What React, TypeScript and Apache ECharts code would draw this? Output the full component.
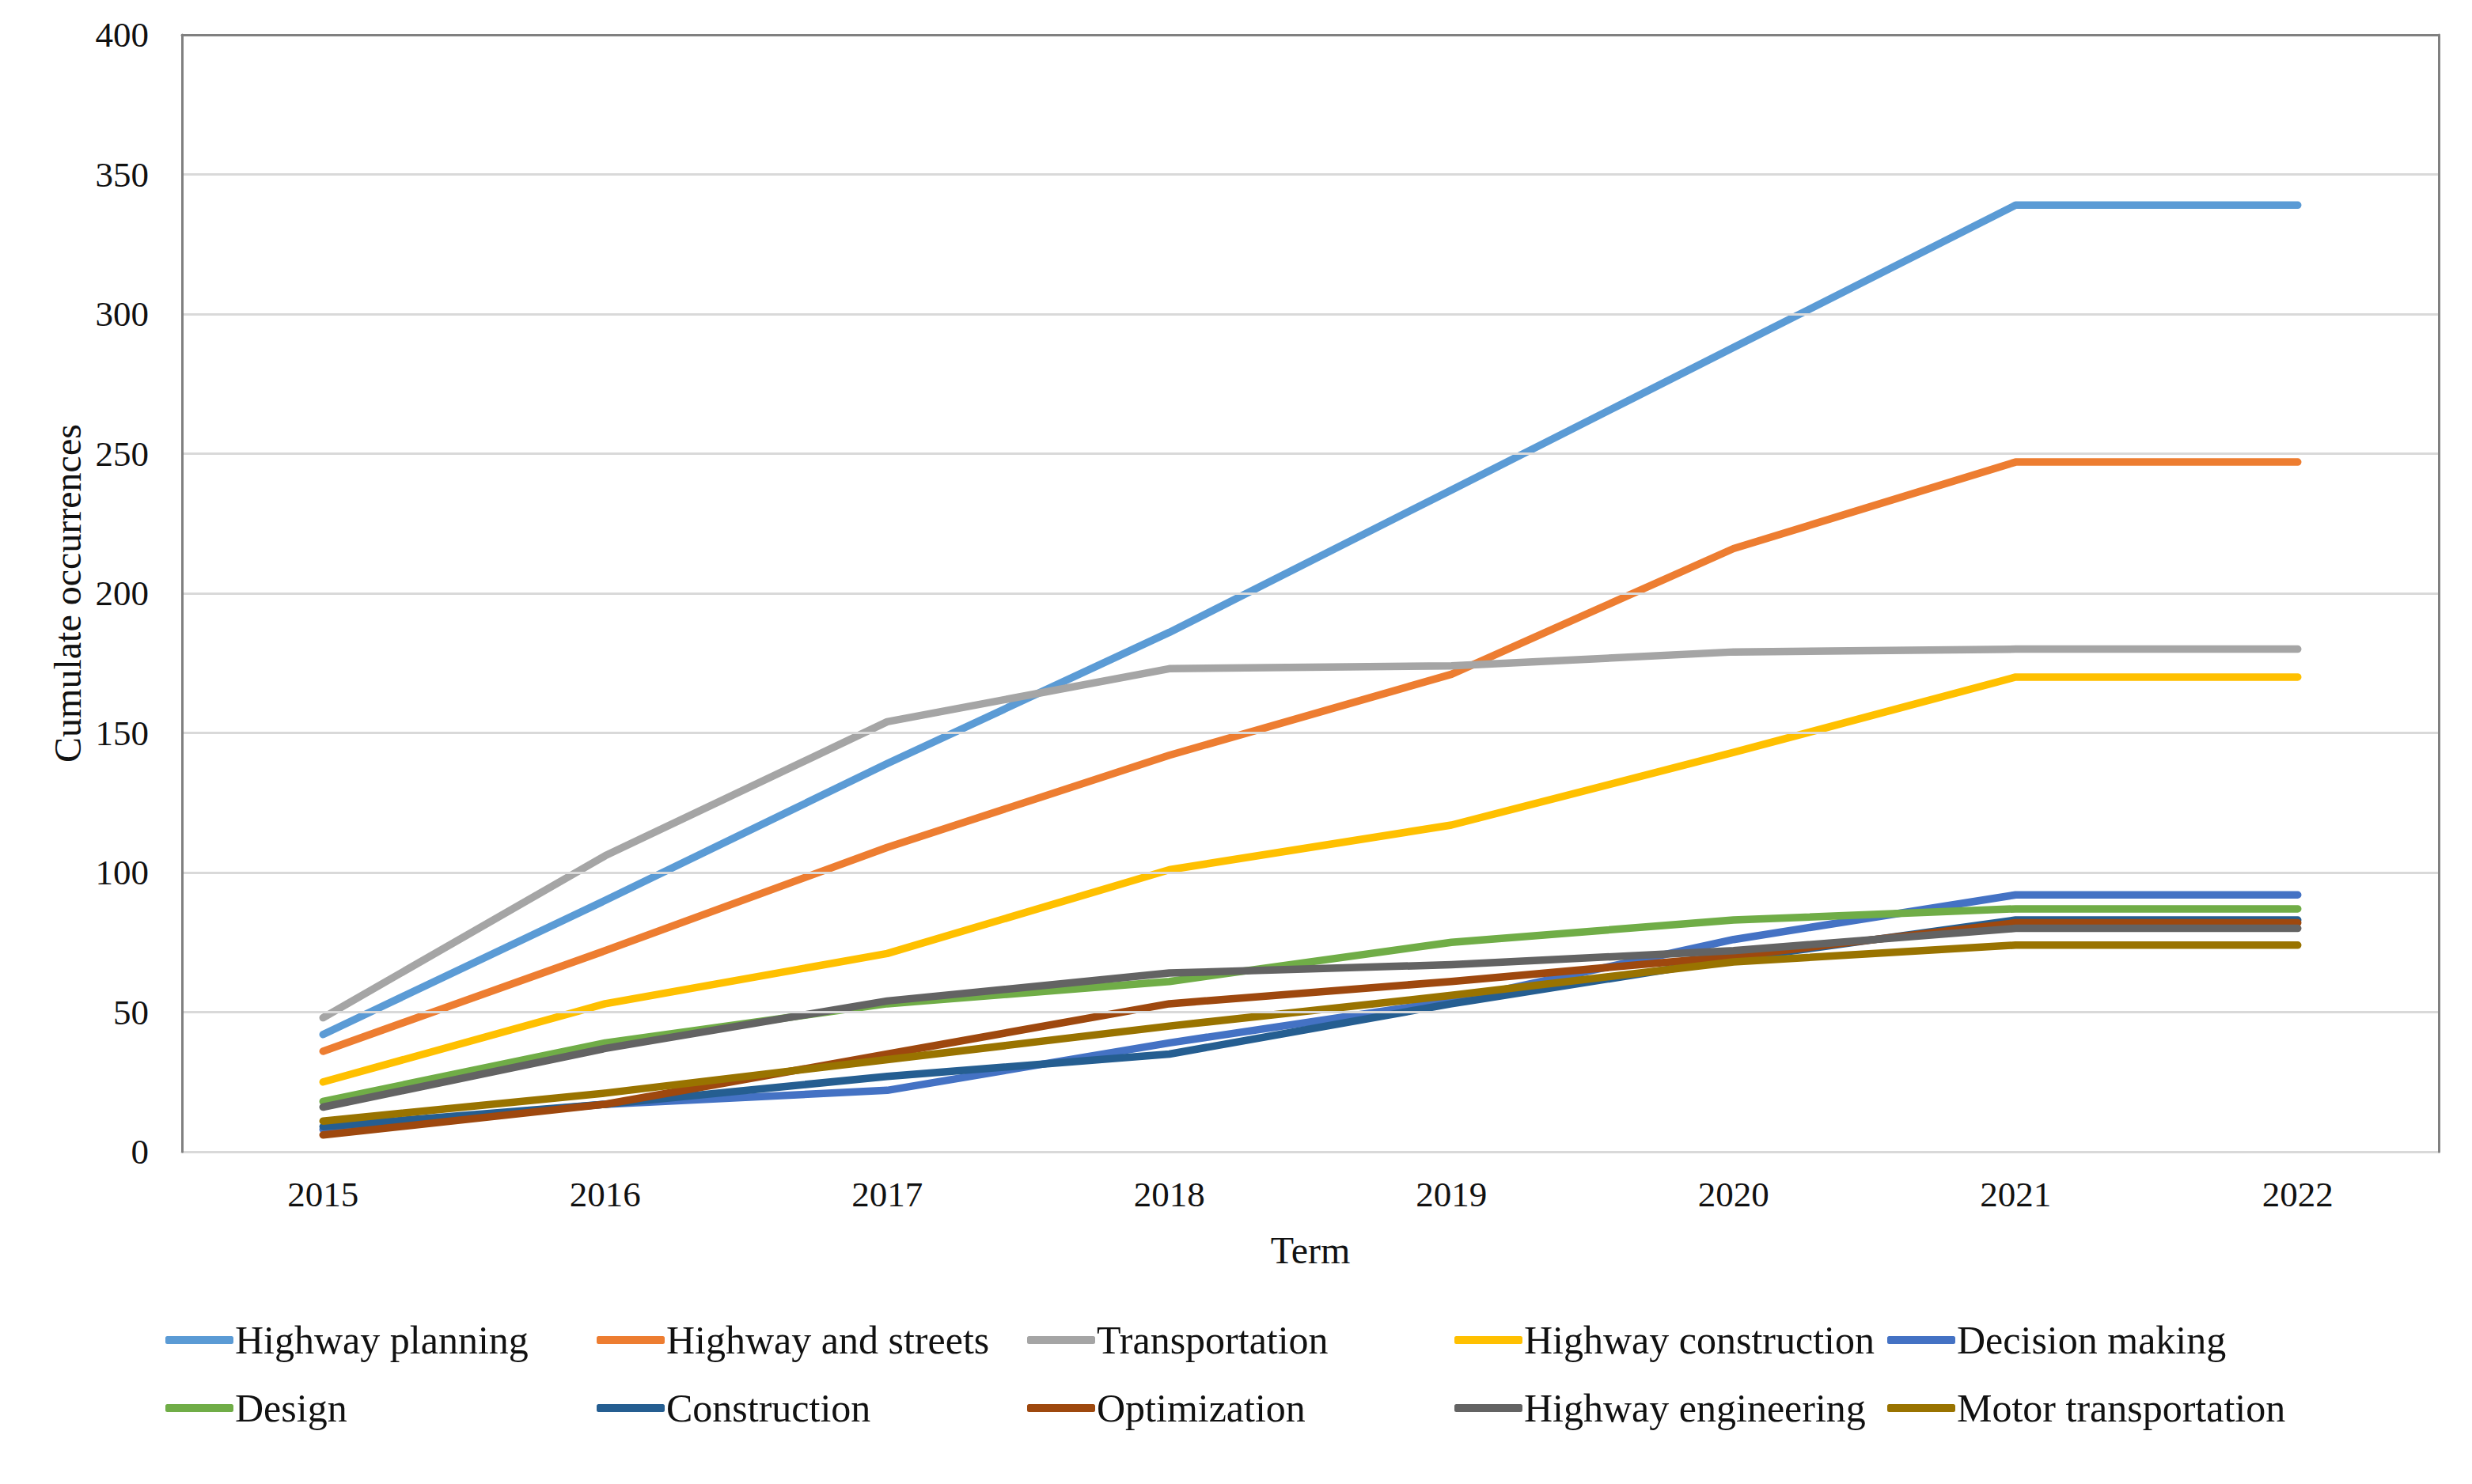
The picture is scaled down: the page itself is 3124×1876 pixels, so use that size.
import React, { useEffect, useRef } from "react";
import * as echarts from "echarts";

const years = ["2015", "2016", "2017", "2018", "2019", "2020", "2021", "2022"];

const seriesNames = [
  "Highway planning",
  "Highway and streets",
  "Transportation",
  "Highway construction",
  "Decision making",
  "Design",
  "Construction",
  "Optimization",
  "Highway engineering",
  "Motor transportation",
];

const highwayPlanning = [42, 90, 139, 186, 237, 288, 339, 339];
const highwayAndStreets = [36, 72, 109, 142, 171, 216, 247, 247];
const transportation = [48, 106, 154, 173, 174, 179, 180, 180];
const highwayConstruction = [25, 53, 71, 101, 117, 143, 170, 170];
const decisionMaking = [8, 17, 22, 39, 54, 76, 92, 92];
const design = [18, 39, 53, 61, 75, 83, 87, 87];
const construction = [9, 17, 27, 35, 53, 69, 83, 83];
const optimization = [6, 17, 35, 53, 61, 70, 82, 82];
const highwayEngineering = [16, 37, 54, 64, 67, 72, 80, 80];
const motorTransportation = [11, 21, 33, 45, 56, 68, 74, 74];

const seriesValues = [
  highwayPlanning,
  highwayAndStreets,
  transportation,
  highwayConstruction,
  decisionMaking,
  design,
  construction,
  optimization,
  highwayEngineering,
  motorTransportation,
];

const colors = [
  "#5B9BD5",
  "#ED7D31",
  "#A5A5A5",
  "#FFC000",
  "#4472C4",
  "#70AD47",
  "#255E91",
  "#9E480E",
  "#636363",
  "#997300",
];

const yTicks = { min: 0, max: 400, interval: 50 };

const FONT = "'Liberation Serif', 'Times New Roman', serif";
const FS = 45;
const NAME_FS = 48;
const LEGEND_FS = 50;

export default function App() {
  const ref = useRef<HTMLDivElement>(null);

  useEffect(() => {
    if (!ref.current) return;
    const chart = echarts.init(ref.current, undefined, { renderer: "svg" });

    const legendCols = [209, 754, 1298, 1838, 2385];
    const legendRows = [1694, 1780];
    const legends = seriesNames.map((name, i) => ({
      show: true,
      data: [name],
      left: legendCols[i % 5],
      top: legendRows[Math.floor(i / 5)] - 26,
      padding: 0,
      itemWidth: 86,
      itemHeight: 10,
      icon: "roundRect",
      selectedMode: false,
      textStyle: { fontFamily: FONT, fontSize: LEGEND_FS, color: "#111", lineHeight: 52, padding: [0, 0, 0, -3] },
    }));

    const option: any = {
      animation: false,
      backgroundColor: "#ffffff",
      color: colors,
      textStyle: { fontFamily: FONT },
      grid: { left: 230, right: 42, top: 44, bottom: 420, show: false },
      legend: legends,
      xAxis: [
        {
          type: "category",
          data: years,
          boundaryGap: true,
          name: "Term",
          nameLocation: "middle",
          nameGap: 100,
          nameTextStyle: { fontFamily: FONT, fontSize: NAME_FS, color: "#111" },
          axisLine: { show: true, lineStyle: { color: "#d9d9d9", width: 3 } },
          axisTick: { show: false },
          axisLabel: { fontFamily: FONT, fontSize: FS, color: "#111", margin: 31 },
          splitLine: { show: false },
        },
        {
          type: "category",
          data: years,
          position: "top",
          z: 5,
          axisLine: { show: true, onZero: false, lineStyle: { color: "#808080", width: 3 } },
          axisTick: { show: false },
          axisLabel: { show: false },
          splitLine: { show: false },
        },
      ],
      yAxis: [
        {
          type: "value",
          min: yTicks.min,
          max: yTicks.max,
          interval: yTicks.interval,
          name: "Cumulate occurrences",
          nameLocation: "middle",
          nameGap: 116,
          nameTextStyle: { fontFamily: FONT, fontSize: NAME_FS, color: "#111" },
          z: 5,
          axisLine: { show: true, lineStyle: { color: "#808080", width: 3 } },
          axisTick: { show: false },
          axisLabel: { fontFamily: FONT, fontSize: FS, color: "#111", margin: 42 },
          splitLine: { show: true, lineStyle: { color: "#d9d9d9", width: 3 } },
        },
        {
          type: "value",
          min: yTicks.min,
          max: yTicks.max,
          interval: yTicks.interval,
          position: "right",
          z: 5,
          axisLine: { show: true, onZero: false, lineStyle: { color: "#808080", width: 3 } },
          axisTick: { show: false },
          axisLabel: { show: false },
          splitLine: { show: false },
        },
      ],
      series: seriesNames.map((name, i) => ({
        name,
        type: "line",
        data: seriesValues[i],
        xAxisIndex: 0,
        yAxisIndex: 0,
        symbol: "none",
        showSymbol: false,
        lineStyle: { width: 9.5, color: colors[i], cap: "round", join: "round" },
        itemStyle: { color: colors[i] },
      })),
    };

    chart.setOption(option);
    return () => chart.dispose();
  }, []);

  return (
    <div
      ref={ref}
      style={{ position: "fixed", left: 0, top: 0, width: "3124px", height: "1876px" }}
    />
  );
}
